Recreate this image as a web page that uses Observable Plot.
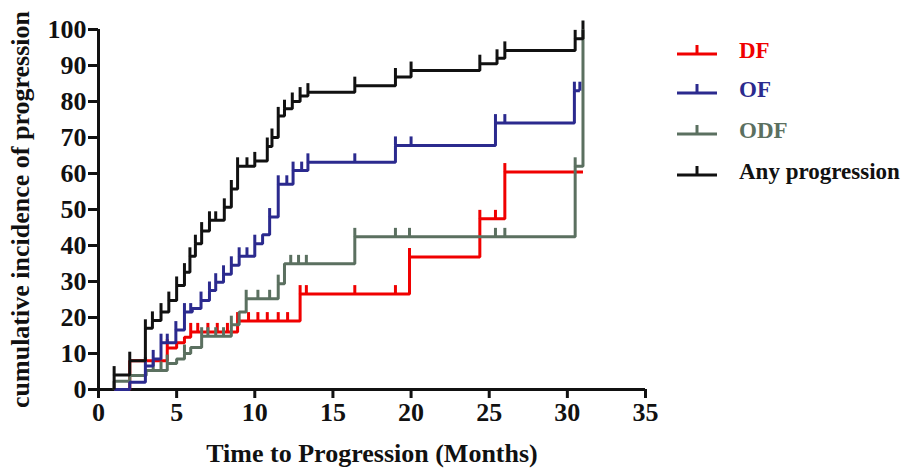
<!DOCTYPE html>
<html>
<head>
<meta charset="utf-8">
<script src="https://cdn.jsdelivr.net/npm/d3@7"></script>
<script src="https://cdn.jsdelivr.net/npm/@observablehq/plot@0.6"></script>
<style>
  html, body { margin: 0; padding: 0; background: #fff; }
  #wrap { position: relative; width: 921px; height: 469px; overflow: hidden; }
  #legend { position: absolute; left: 677px; top: 0; font-family: "Liberation Serif", "Times New Roman", serif; font-weight: bold; font-size: 23px; }
  .item { position: absolute; left: 0; display: flex; align-items: center; white-space: nowrap; }
  .item svg { display: block; margin-right: 22px; }
</style>
</head>
<body>
<div id="wrap"><div id="chart"></div><div id="legend"></div></div>
<script>
// ---- data ----
const xTicks = [0, 5, 10, 15, 20, 25, 30, 35];
const yTicks = [0, 10, 20, 30, 40, 50, 60, 70, 80, 90, 100];
const xLabel = "Time to Progression (Months)";
const yLabel = "cumulative incidence of progression";

const seriesNames = ["DF", "OF", "ODF", "Any progression"];
const seriesColors = ["#f00000", "#2b2a8e", "#5b7060", "#111111"];

// DF
const dfTimes  = [1, 2, 4.4, 5.0, 5.5, 5.9, 8.9, 12.9, 19.9, 24.4, 26.0, 31.0];
const dfValues = [0, 8, 11.5, 13, 14.5, 16, 19, 26.5, 36.8, 47.4, 60.4, 60.4];
const dfCensor = [4.4, 5.9, 6.35, 7.0, 7.6, 8.25, 8.9, 9.6, 10.2, 10.8, 11.5, 12.1, 12.9, 13.3, 16.4, 19.0, 19.9, 24.4, 25.4, 26.0];

// OF
const ofTimes  = [1, 2, 3, 3.5, 4.0, 4.95, 5.5, 6.0, 6.56, 7.1, 7.5, 8.0, 8.5, 9.0, 10.0, 10.5, 10.95, 11.5, 12.45, 13.4, 19.0, 25.4, 30.45, 30.8];
const ofValues = [0, 2, 6.5, 8.5, 13, 16.5, 21.5, 22.5, 24.7, 27.5, 29.8, 32, 34.5, 37, 40.5, 43, 47.9, 57, 60.8, 63.1, 67.8, 74, 83, 83];
const ofCensor = [3, 3.5, 4.0, 4.4, 4.95, 5.5, 5.9, 6.56, 7.1, 7.5, 8.0, 8.5, 9.0, 9.5, 10.0, 10.95, 11.5, 12.05, 12.45, 13.0, 13.4, 16.4, 19.0, 20.0, 25.4, 26.0, 30.45, 30.8];

// ODF
const odfTimes  = [1, 1, 2, 3.05, 4.4, 5.0, 5.5, 5.9, 6.6, 8.5, 9.0, 9.45, 11.5, 11.9, 16.4, 30.5, 31.0];
const odfValues = [0, 2.3, 3.9, 5.3, 7.2, 8.5, 10, 11.7, 14.8, 18, 21.5, 25.2, 29.4, 34.9, 42.4, 62, 100];
const odfCensor = [3.5, 4.0, 4.4, 5.5, 6.6, 7.0, 7.5, 8.0, 8.5, 9.45, 10.2, 10.95, 11.5, 12.3, 12.8, 13.3, 16.4, 19.0, 19.9, 25.4, 26.0, 30.5];

// Any progression
const anyTimes  = [1, 1, 2, 3, 3.45, 4.0, 4.5, 5.0, 5.5, 5.85, 6.2, 6.6, 7.1, 8.05, 8.5, 8.9, 10.0, 10.8, 11.1, 11.5, 11.9, 12.4, 12.9, 13.4, 16.4, 19.0, 20.0, 24.4, 25.5, 26.0, 30.5, 31.0];
const anyValues = [0, 4, 8, 17, 19.2, 21.5, 24.7, 28.9, 32.6, 37, 40.5, 44, 47, 50.6, 55.7, 62, 63.5, 67.5, 70, 76, 78, 80, 81.5, 82.6, 84.4, 86.8, 88.6, 90.5, 92, 94.2, 97.4, 100];
const anyCensor = [1, 2, 3, 3.45, 4.0, 4.5, 5.0, 5.5, 5.85, 6.2, 6.6, 7.1, 7.5, 8.05, 8.5, 8.9, 9.5, 10.0, 10.8, 11.1, 11.5, 11.9, 12.4, 12.9, 13.4, 16.4, 19.0, 20.0, 24.4, 25.5, 26.0, 30.5, 31.0];

// ---- build tables ----
const drawOrder = [
  {name: "DF", times: dfTimes, values: dfValues, censor: dfCensor},
  {name: "ODF", times: odfTimes, values: odfValues, censor: odfCensor},
  {name: "OF", times: ofTimes, values: ofValues, censor: ofCensor},
  {name: "Any progression", times: anyTimes, values: anyValues, censor: anyCensor}
];
const colorOf = name => seriesColors[seriesNames.indexOf(name)];

function valueAt(s, t) {
  const i = d3.bisectRight(s.times, t) - 1;
  return s.values[Math.max(0, i)];
}

const tickSymbol = {
  draw(context, size) {
    const r = Math.sqrt(size / Math.PI);
    context.moveTo(0, 0);
    context.lineTo(0, -r);
  }
};

const marks = [];
for (const s of drawOrder) {
  const pts = s.times.map((t, i) => ({t, v: s.values[i]}));
  const cens = s.censor.map(t => ({t, v: valueAt(s, t)}));
  marks.push(Plot.line(pts, {x: "t", y: "v", curve: "step-after", stroke: colorOf(s.name), strokeWidth: 3, strokeLinejoin: "miter", strokeLinecap: "butt"}));
  marks.push(Plot.dot(cens, {x: "t", y: "v", symbol: tickSymbol, r: 9, fill: "none", stroke: colorOf(s.name), strokeWidth: 3}));
}

const chart = Plot.plot({
  width: 921,
  height: 469,
  marginLeft: 98,
  marginRight: 276,
  marginTop: 29,
  marginBottom: 80,
  style: {fontFamily: "'Liberation Serif', 'Times New Roman', serif", fontWeight: "bold", color: "#111", background: "#fff", overflow: "visible"},
  x: {domain: [0, 35]},
  y: {domain: [0, 100]},
  marks: [
    Plot.axisX({ticks: xTicks, tickSize: 9, tickPadding: 4, strokeWidth: 3, fontSize: 26, fontWeight: "bold",
      label: xLabel, labelAnchor: "center", labelOffset: 72, labelArrow: "none"}),
    Plot.axisY({ticks: yTicks, tickSize: 10, tickPadding: 2, strokeWidth: 3, fontSize: 26, fontWeight: "bold",
      label: yLabel, labelAnchor: "center", labelOffset: 88, labelArrow: "none"}),
    Plot.ruleY([0], {strokeWidth: 3, stroke: "#111"}),
    Plot.ruleX([0], {strokeWidth: 3, stroke: "#111"}),
    ...marks
  ]
});
document.getElementById("chart").appendChild(chart);

// ---- legend ----
const legendY = [51, 90, 131, 172];
const legend = document.getElementById("legend");
seriesNames.forEach((name, i) => {
  const item = document.createElement("div");
  item.className = "item";
  item.style.top = (legendY[i] - 16) + "px";
  item.style.color = seriesColors[i];
  item.innerHTML = `<svg width="40" height="32"><line x1="0" x2="40" y1="19" y2="19" stroke="${seriesColors[i]}" stroke-width="3"/><line x1="20" x2="20" y1="19" y2="10" stroke="${seriesColors[i]}" stroke-width="3"/></svg><span>${name}</span>`;
  legend.appendChild(item);
});
</script>
</body>
</html>
